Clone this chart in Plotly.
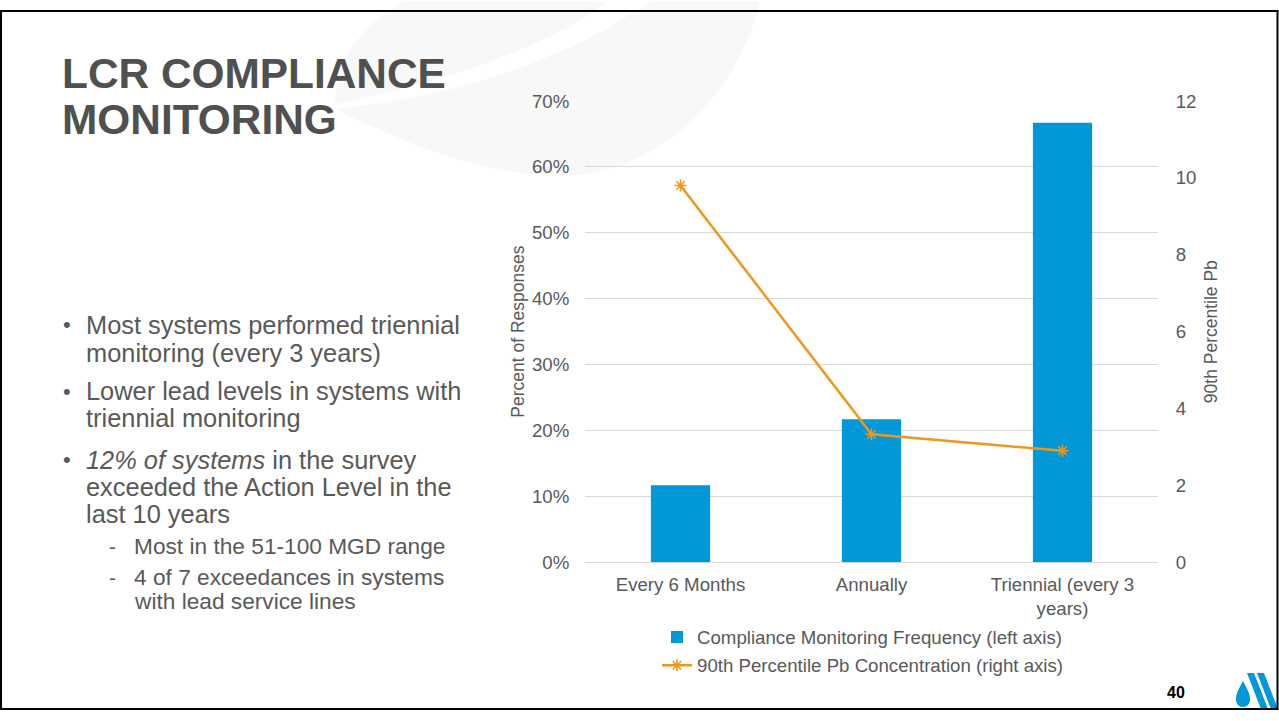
import plotly.graph_objects as go

W, H = 1279, 721

# ---------------- data ----------------
categories = ["Every 6 Months", "Annually", "Triennial (every 3<br>years)"]
freq_pct = [0.117, 0.217, 0.667]          # left axis (share of responses)
pb_90th = [9.8, 3.33, 2.9]                # right axis (90th percentile Pb)
left_ticks = [0, 0.1, 0.2, 0.3, 0.4, 0.5, 0.6, 0.7]
right_ticks = [0, 2, 4, 6, 8, 10, 12]

title_lines = ["LCR COMPLIANCE", "MONITORING"]
bullet_lines = [
    ("•", "Most systems performed triennial", 325),
    ("", "monitoring (every 3 years)", 353),
    ("•", "Lower lead levels in systems with", 392),
    ("", "triennial monitoring", 419),
    ("•", "<i>12% of systems</i> in the survey", 461),
    ("", "exceeded the Action Level in the", 488),
    ("", "last 10 years", 515),
]
sub_lines = [
    ("-", "Most in the 51-100 MGD range", 548),
    ("-", "4 of 7 exceedances in systems", 579),
    ("", "with lead service lines", 603),
]

BLUE = "#0098D6"
ORANGE = "#F0961A"
GRAY = "#595959"
FONT = "Liberation Sans, Arial, sans-serif"
CHART_FS = 18.67


def px(x):
    return x / W


def Y(y):
    # screen-space y of the slide -> figure-space y (compensates the capture's vertical mapping)
    return (y - 8.5) / 0.9765


def py(y):
    return 1 - Y(y) / H


def pyf(y):
    # raw figure-space y (edge-anchored items)
    return 1 - y / H


def P(x, y):
    return f"{px(x):.5f},{py(y):.5f}"


def Pf(x, y):
    return f"{px(x):.5f},{pyf(y):.5f}"


fig = go.Figure()

fig.add_trace(go.Bar(
    x=categories, y=freq_pct, name="Compliance Monitoring Frequency (left axis)",
    marker=dict(color=BLUE, line=dict(width=0)), width=0.31, yaxis="y",
    legendgroup="a",
))
fig.add_trace(go.Scatter(
    x=categories, y=pb_90th, name="90th Percentile Pb Concentration (right axis)",
    mode="lines+markers", yaxis="y2",
    line=dict(color=ORANGE, width=2.5),
    marker=dict(symbol="asterisk-open", size=10, color=ORANGE, line=dict(color=ORANGE, width=1.5)),
    legendgroup="b",
))

shapes = []
# faint background watermark
wm = "#f8f8f8"
shapes.append(dict(type="path", xref="paper", yref="paper", layer="below", line=dict(width=0), fillcolor=wm,
                   path=f"M{P(403,0)} L{P(607,0)} C{P(560,40)} {P(450,80)} {P(335,103)} C{P(335,60)} {P(360,25)} {P(403,0)} Z"))
shapes.append(dict(type="path", xref="paper", yref="paper", layer="below", line=dict(width=0), fillcolor=wm,
                   path=f"M{P(650,0)} L{P(760,0)} C{P(740,80)} {P(680,160)} {P(580,174)} C{P(500,180)} {P(420,150)} {P(335,108)} C{P(470,95)} {P(580,50)} {P(650,0)} Z"))

# logo (anchored to the bottom edge of the slide)
shapes.append(dict(type="path", xref="paper", yref="paper", line=dict(width=0), fillcolor=BLUE,
                   path=f"M{Pf(1243,691)} C{Pf(1246,698)} {Pf(1250,703)} {Pf(1250,710)} C{Pf(1250,715)} {Pf(1247,718)} {Pf(1243,718)} C{Pf(1239,718)} {Pf(1236,715)} {Pf(1236,710)} C{Pf(1236,703)} {Pf(1240,698)} {Pf(1243,691)} Z"))
shapes.append(dict(type="path", xref="paper", yref="paper", line=dict(width=0), fillcolor=BLUE,
                   path=f"M{Pf(1247,683)} L{Pf(1254,683)} L{Pf(1268,720)} L{Pf(1261,720)} Z"))
shapes.append(dict(type="path", xref="paper", yref="paper", line=dict(width=0), fillcolor=BLUE,
                   path=f"M{Pf(1257,683)} L{Pf(1264,683)} L{Pf(1278,720)} L{Pf(1271,720)} Z"))

# slide border
shapes.append(dict(type="rect", xref="paper", yref="paper", x0=px(1), y0=pyf(720), x1=px(1277.5), y1=pyf(1),
                   line=dict(color="black", width=2), fillcolor="rgba(0,0,0,0)"))

annotations = []
for i, t in enumerate(title_lines):
    annotations.append(dict(text=f"<b>{t}</b>", x=px(60), y=py([72, 119][i]), xref="paper", yref="paper",
                            xanchor="left", yanchor="middle", showarrow=False,
                            font=dict(family=FONT, size=42.4, color="#505050")))
for mark, t, yy in bullet_lines:
    if mark:
        annotations.append(dict(text=mark, x=px(61), y=py(yy), xref="paper", yref="paper",
                                xanchor="left", yanchor="middle", showarrow=False,
                                font=dict(family=FONT, size=22, color=GRAY)))
    annotations.append(dict(text=t, x=px(84), y=py(yy), xref="paper", yref="paper",
                            xanchor="left", yanchor="middle", showarrow=False,
                            font=dict(family=FONT, size=25.4, color=GRAY)))
for mark, t, yy in sub_lines:
    if mark:
        annotations.append(dict(text=mark, x=px(107), y=py(yy), xref="paper", yref="paper",
                                xanchor="left", yanchor="middle", showarrow=False,
                                font=dict(family=FONT, size=21, color=GRAY)))
    annotations.append(dict(text=t, x=px(132), y=py(yy), xref="paper", yref="paper",
                            xanchor="left", yanchor="middle", showarrow=False,
                            font=dict(family=FONT, size=22.7, color=GRAY)))
annotations.append(dict(text="<b>40</b>", x=px(1176), y=py(695), xref="paper", yref="paper",
                        xanchor="center", yanchor="middle", showarrow=False,
                        font=dict(family=FONT, size=16, color="black")))

fig.update_layout(
    width=W, height=H,
    margin=dict(l=0, r=0, t=0, b=0),
    paper_bgcolor="white", plot_bgcolor="rgba(0,0,0,0)",
    font=dict(family=FONT, size=CHART_FS, color=GRAY),
    xaxis=dict(domain=[px(585), px(1158)], showgrid=False, showline=False, zeroline=False,
               ticks="outside", ticklen=5, tickcolor="rgba(0,0,0,0)",
               tickfont=dict(size=CHART_FS, color=GRAY), fixedrange=True),
    yaxis=dict(domain=[py(564), py(100)], range=[0, 0.7], tickvals=left_ticks, tickformat=".0%",
               showgrid=True, gridcolor="#d9d9d9", gridwidth=1, zeroline=True, zerolinecolor="#d9d9d9",
               zerolinewidth=1, showline=False,
               ticks="outside", ticklen=11, tickcolor="rgba(0,0,0,0)",
               tickfont=dict(size=CHART_FS, color=GRAY),
               title=dict(text="Percent of Responses", font=dict(size=17.5, color=GRAY), standoff=2)),
    yaxis2=dict(overlaying="y", side="right", range=[0, 12], tickvals=right_ticks,
                showgrid=False, zeroline=False, showline=False,
                ticks="outside", ticklen=13, tickcolor="rgba(0,0,0,0)",
                tickfont=dict(size=CHART_FS, color=GRAY),
                title=dict(text="90th Percentile Pb", font=dict(size=17.5, color=GRAY), standoff=9)),
    showlegend=True,
    legend=dict(x=px(657), y=1 - 626.5 / H, xanchor="left", yanchor="top", orientation="v",
                traceorder="grouped", tracegroupgap=1, itemwidth=30,
                font=dict(size=CHART_FS, color=GRAY), bgcolor="rgba(0,0,0,0)"),
    shapes=shapes,
    annotations=annotations,
    bargap=0.69,
)

fig.write_html("out.html")
